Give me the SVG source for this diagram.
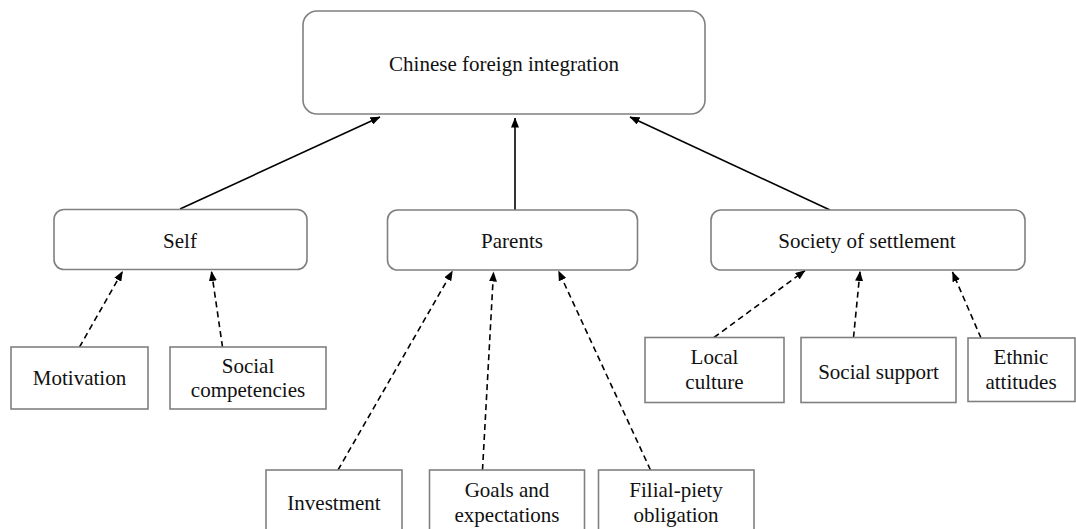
<svg xmlns="http://www.w3.org/2000/svg" width="1076" height="529" viewBox="0 0 1076 529">
  <defs>
    <marker id="arrow" viewBox="0 0 10 8" markerWidth="10" markerHeight="8" refX="9.5" refY="4" orient="auto" markerUnits="userSpaceOnUse">
      <path d="M0,0 L10,4 L0,8 z" fill="#000"/>
    </marker>
  </defs>
  <style>
    .box { fill: #fff; stroke: #808080; stroke-width: 1.6; }
    text { font-family: 'Liberation Serif', 'Times New Roman', Times, serif; font-size: 21px; fill: #111; text-anchor: middle; }
    .solid { stroke: #000; stroke-width: 1.6; fill: none; marker-end: url(#arrow); }
    .dash { stroke: #000; stroke-width: 1.6; fill: none; stroke-dasharray: 6 4; marker-end: url(#arrow); }
  </style>
  <rect width="1076" height="529" fill="#fff"/>

  <g id="connectors">
    <line class="solid" x1="180" y1="209" x2="380" y2="117"/>
    <line class="solid" x1="515" y1="210" x2="515" y2="118"/>
    <line class="solid" x1="830" y1="210" x2="630" y2="117"/>
    <line class="dash" x1="79.5" y1="347" x2="122.5" y2="271.5"/>
    <line class="dash" x1="222.5" y1="347" x2="211.5" y2="271.5"/>
    <line class="dash" x1="338" y1="470" x2="452.5" y2="271"/>
    <line class="dash" x1="482.5" y1="470" x2="493.5" y2="272"/>
    <line class="dash" x1="650.5" y1="470" x2="558.5" y2="271"/>
    <line class="dash" x1="714" y1="337.5" x2="805" y2="270.5"/>
    <line class="dash" x1="853.5" y1="337.5" x2="860" y2="271.5"/>
    <line class="dash" x1="981" y1="338" x2="952.5" y2="272"/>
  </g>

  <g font-family="Liberation Serif, Times New Roman, serif" font-size="21" text-anchor="middle">
  <g id="node-top">
    <rect class="box" x="303" y="11" width="402" height="103" rx="14"/>
    <text x="504" y="71">Chinese foreign integration</text>
  </g>
  <g id="node-self">
    <rect class="box" x="54" y="209.5" width="253" height="60" rx="10"/>
    <text x="180" y="248">Self</text>
  </g>
  <g id="node-parents">
    <rect class="box" x="387.5" y="210" width="250" height="60" rx="10"/>
    <text x="512" y="248">Parents</text>
  </g>
  <g id="node-society">
    <rect class="box" x="711" y="210" width="314" height="60" rx="10"/>
    <text x="867" y="248">Society of settlement</text>
  </g>
  <g id="node-motivation">
    <rect class="box" x="11" y="347" width="137" height="62"/>
    <text x="79.5" y="384.5">Motivation</text>
  </g>
  <g id="node-social-competencies">
    <rect class="box" x="170" y="347" width="156" height="62"/>
    <text x="248" y="373">Social</text>
    <text x="248" y="397">competencies</text>
  </g>
  <g id="node-investment">
    <rect class="box" x="266" y="470" width="136" height="70"/>
    <text x="334" y="509.5">Investment</text>
  </g>
  <g id="node-goals">
    <rect class="box" x="429.5" y="470" width="155" height="70"/>
    <text x="507" y="497">Goals and</text>
    <text x="507" y="521.5">expectations</text>
  </g>
  <g id="node-filial">
    <rect class="box" x="598.5" y="470" width="155.5" height="70"/>
    <text x="676" y="497">Filial-piety</text>
    <text x="676" y="521.5">obligation</text>
  </g>
  <g id="node-local-culture">
    <rect class="box" x="645" y="337.5" width="139" height="65"/>
    <text x="714.5" y="363.5">Local</text>
    <text x="714.5" y="388.5">culture</text>
  </g>
  <g id="node-social-support">
    <rect class="box" x="801" y="337.5" width="155" height="65"/>
    <text x="878.5" y="378.5">Social support</text>
  </g>
  <g id="node-ethnic">
    <rect class="box" x="968" y="338" width="107" height="63.5"/>
    <text x="1021" y="363.5">Ethnic</text>
    <text x="1021" y="388.5">attitudes</text>
  </g>
  </g>
</svg>
